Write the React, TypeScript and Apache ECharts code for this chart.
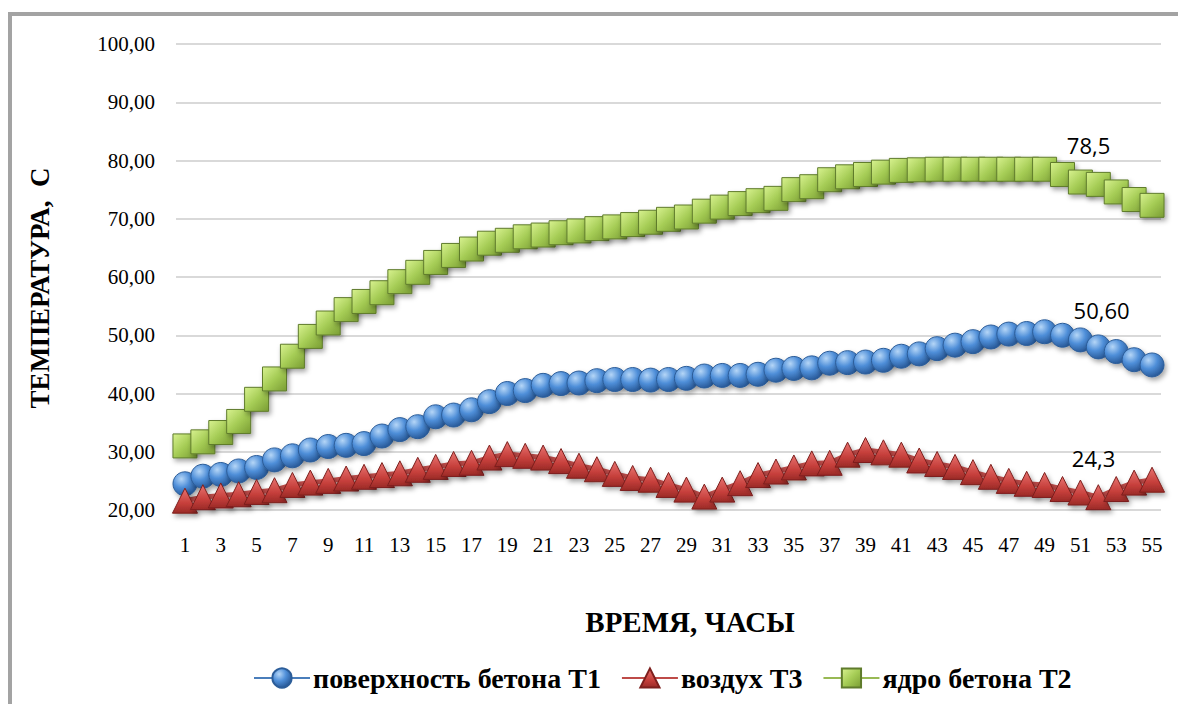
import React, { useEffect, useRef } from "react";
import * as echarts from "echarts";

// Hours of measurement
const hours = [
  "1", "2", "3", "4", "5", "6", "7", "8", "9", "10",
  "11", "12", "13", "14", "15", "16", "17", "18", "19", "20",
  "21", "22", "23", "24", "25", "26", "27", "28", "29", "30",
  "31", "32", "33", "34", "35", "36", "37", "38", "39", "40",
  "41", "42", "43", "44", "45", "46", "47", "48", "49", "50",
  "51", "52", "53", "54", "55",
];

// Concrete surface temperature T1, °C
const surfaceT1 = [
  24.5, 25.8, 26.1, 26.7, 27.3, 28.6, 29.3, 30.3, 30.9, 31.1,
  31.4, 32.7, 33.8, 34.3, 36.0, 36.3, 37.2, 38.6, 40.0, 40.5,
  41.4, 41.7, 41.8, 42.2, 42.4, 42.4, 42.3, 42.4, 42.6, 43.0,
  43.1, 43.1, 43.3, 44.0, 44.3, 44.4, 45.2, 45.3, 45.4, 45.7,
  46.4, 46.8, 47.7, 48.3, 48.9, 49.7, 50.2, 50.3, 50.6, 50.0,
  49.2, 48.0, 47.2, 45.8, 44.9,
];

// Air temperature T3, °C
const airT3 = [
  21.6, 22.2, 22.5, 22.7, 23.1, 23.4, 24.3, 24.7, 25.0, 25.4,
  25.7, 26.0, 26.3, 26.9, 27.4, 27.9, 28.1, 29.0, 29.6, 29.3,
  29.0, 28.4, 27.6, 27.0, 26.2, 25.5, 25.2, 24.3, 23.5, 22.3,
  23.5, 24.6, 26.0, 26.6, 27.3, 28.0, 28.1, 29.5, 30.3, 29.9,
  29.5, 28.5, 27.9, 27.4, 26.5, 25.7, 25.0, 24.5, 24.3, 23.6,
  23.0, 22.2, 23.6, 24.7, 25.2,
];

// Concrete core temperature T2, °C
const coreT2 = [
  31.0, 31.7, 33.3, 35.2, 39.0, 42.5, 46.4, 49.8, 52.1, 54.4,
  55.8, 57.3, 59.2, 60.8, 62.5, 63.7, 64.8, 65.8, 66.3, 66.9,
  67.2, 67.6, 67.9, 68.3, 68.6, 69.0, 69.4, 69.9, 70.3, 71.3,
  72.0, 72.6, 73.1, 73.5, 75.0, 75.5, 76.7, 77.2, 77.6, 78.0,
  78.3, 78.4, 78.5, 78.5, 78.5, 78.5, 78.5, 78.5, 78.5, 77.6,
  76.3, 75.9, 74.6, 73.3, 72.3,
];

const seriesNames = ["поверхность бетона T1", "воздух T3", "ядро бетона T2"];

// Hour whose value is annotated on each curve, and decimals shown
const annotatedHour = 49;
const surfaceDecimals = 2;
const airDecimals = 1;
const coreDecimals = 1;

const yTicks = { min: 20, max: 100, step: 10 };

const serif = "'Liberation Serif', 'Times New Roman', serif";
const commaNum = (v: number, d: number) => v.toFixed(d).replace(".", ",");

function withLabel(values: number[], decimals: number, offset: number[]) {
  const idx = hours.indexOf(String(annotatedHour));
  return values.map((v, i) =>
    i === idx
      ? {
          value: v,
          label: {
            show: true,
            position: "inside",
            offset,
            formatter: () => commaNum(v, decimals),
            color: "#000",
            fontFamily: "'Open Sans', sans-serif",
            fontSize: 22,
          },
        }
      : v
  );
}

const shadow = {
  shadowBlur: 5,
  shadowColor: "rgba(0,0,0,0.35)",
  shadowOffsetX: 2,
  shadowOffsetY: 3,
};

export default function App() {
  const ref = useRef<HTMLDivElement>(null);

  useEffect(() => {
    if (!ref.current) return;
    const chart = echarts.init(ref.current, null, { renderer: "svg" });

    const blueFill = new echarts.graphic.RadialGradient(0.35, 0.3, 0.8, [
      { offset: 0, color: "#b5d6f7" },
      { offset: 0.45, color: "#4f8fd9" },
      { offset: 1, color: "#1f4d8a" },
    ]);
    const redFill = new echarts.graphic.LinearGradient(0, 0, 0, 1, [
      { offset: 0, color: "#e87370" },
      { offset: 0.6, color: "#c63f3b" },
      { offset: 1, color: "#9a2a27" },
    ]);
    const greenFill = new echarts.graphic.LinearGradient(0, 0, 1, 1, [
      { offset: 0, color: "#d8f290" },
      { offset: 0.5, color: "#a5cc55" },
      { offset: 1, color: "#799c33" },
    ]);

    chart.setOption({
      animation: false,
      backgroundColor: "#fff",
      graphic: [
        {
          type: "rect",
          shape: { x: 10, y: 14, width: 1300, height: 900 },
          style: { fill: "none", stroke: "#a3a3a3", lineWidth: 4 },
          silent: true,
        },
        {
          type: "text",
          x: 40,
          y: 288,
          rotation: Math.PI / 2,
          style: {
            text: "ТЕМПЕРАТУРА,  С",
            font: `bold 27px ${serif}`,
            fill: "#000",
            textAlign: "center",
            textVerticalAlign: "middle",
          },
        },
        {
          type: "text",
          x: 690,
          y: 622,
          style: {
            text: "ВРЕМЯ, ЧАСЫ",
            font: `bold 29px ${serif}`,
            fill: "#000",
            textAlign: "center",
            textVerticalAlign: "middle",
          },
        },
      ],
      grid: { left: 176, right: 17, top: 44, bottom: 194 },
      legend: {
        left: 248,
        top: 659,
        itemWidth: 56,
        itemHeight: 24,
        itemGap: 20,
        textStyle: {
          fontFamily: serif,
          fontWeight: "bold",
          fontSize: 28,
          color: "#000",
          padding: [0, 0, 0, -2],
        },
        data: seriesNames,
      },
      xAxis: {
        type: "category",
        data: hours,
        boundaryGap: true,
        axisLine: { show: false },
        axisTick: { show: false },
        axisLabel: {
          interval: 1,
          margin: 24,
          fontFamily: serif,
          fontSize: 21,
          color: "#000",
        },
      },
      yAxis: {
        type: "value",
        min: yTicks.min,
        max: yTicks.max,
        interval: yTicks.step,
        axisLine: { show: false },
        axisTick: { show: false },
        splitLine: { lineStyle: { color: "#d9d9d9", width: 2 } },
        axisLabel: {
          margin: 21,
          fontFamily: serif,
          fontSize: 21,
          color: "#000",
          formatter: (v: number) => commaNum(v, 2),
        },
      },
      series: [
        {
          name: seriesNames[0],
          type: "line",
          data: withLabel(surfaceT1, surfaceDecimals, [57, -22]),
          symbol: "circle",
          symbolSize: 24,
          showAllSymbol: true,
          lineStyle: { color: "#4a7ebb", width: 5, ...shadow },
          itemStyle: { color: blueFill, borderColor: "#2c5d99", borderWidth: 1, ...shadow },
        },
        {
          name: seriesNames[1],
          type: "line",
          data: withLabel(airT3, airDecimals, [49, -27]),
          symbol: "triangle",
          symbolSize: [25, 25],
          showAllSymbol: true,
          lineStyle: { color: "#be4b48", width: 5, ...shadow },
          itemStyle: { color: redFill, borderColor: "#7d1f1d", borderWidth: 1, ...shadow },
        },
        {
          name: seriesNames[2],
          type: "line",
          data: withLabel(coreT2, coreDecimals, [44, -24]),
          symbol: "rect",
          symbolSize: 24,
          showAllSymbol: true,
          lineStyle: { color: "#98b954", width: 5, ...shadow },
          itemStyle: { color: greenFill, borderColor: "#5f7b2c", borderWidth: 1, ...shadow },
        },
      ],
    });

    return () => chart.dispose();
  }, []);

  return (
    <div
      ref={ref}
      style={{ position: "fixed", left: 0, top: 0, width: 1178, height: 704 }}
    />
  );
}
